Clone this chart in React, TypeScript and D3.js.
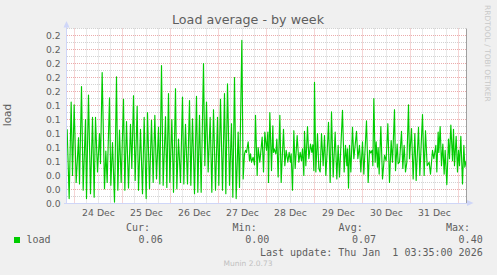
import React from "react";
import * as d3 from "d3";

// hours since 24 Dec 2025 00:00 (UTC) of each read sample, and the load at that time
const hours = [
  -3.67, -2.67, -1.67, -1.0, -0.17, 0.83, 2.0, 2.5, 3.5, 4.33,
  5.5, 6.0, 7.0, 8.0, 9.0, 9.83, 10.5, 11.5, 12.5, 13.0,
  13.83, 15.0, 15.67, 16.33, 17.5, 18.17, 19.0, 20.0, 21.0, 21.67,
  22.5, 23.33, 24.5, 25.17, 26.0, 27.0, 28.0, 28.67, 29.5, 30.33,
  31.33, 32.0, 33.0, 34.0, 34.83, 35.83, 36.5, 37.5, 38.5, 39.33,
  40.17, 41.0, 42.0, 42.67, 43.5, 44.33, 45.5, 46.17, 47.0, 47.67,
  48.67, 49.5, 50.5, 51.17, 52.0, 53.0, 54.0, 54.67, 55.5, 56.5,
  57.5, 58.17, 59.0, 60.0, 61.0, 61.67, 62.5, 63.33, 64.5, 65.17,
  66.0, 66.83, 67.83, 68.67, 69.5, 70.5, 71.5, 72.17, 73.0, 74.0,
  75.0, 75.67, 76.5, 77.5, 78.5, 79.17, 80.0, 80.83, 81.83, 82.5,
  83.67, 84.33, 85.0, 85.5, 86.0, 86.83, 87.5, 88.0, 88.5, 89.33,
  90.0, 90.5, 91.33, 91.83, 92.67, 93.83, 94.5, 95.17, 96.0, 96.67,
  97.0, 97.67, 98.5, 99.17, 99.5, 99.83, 100.67, 101.17, 101.83, 102.67,
  103.33, 104.5, 105.17, 105.83, 106.67, 107.33, 108.0, 108.33, 109.0, 109.67,
  110.33, 111.33, 112.17, 112.83, 113.5, 114.0, 114.67, 115.0, 115.67, 116.5,
  117.17, 118.0, 118.67, 119.17, 119.67, 120.0, 120.67, 121.5, 122.17, 122.83,
  123.5, 124.33, 125.0, 125.67, 126.5, 127.0, 127.83, 128.5, 129.33, 130.33,
  131.17, 131.83, 132.5, 134.0, 134.83, 135.5, 136.17, 136.5, 137.0, 137.5,
  138.17, 139.0, 139.67, 141.0, 141.67, 142.5, 143.17, 144.0, 144.67, 146.0,
  146.83, 147.5, 148.17, 148.83, 149.17, 149.67, 150.33, 150.83, 151.5, 151.83,
  152.33, 153.17, 154.0, 155.0, 155.83, 156.67, 157.5, 158.33, 159.0, 160.0,
  160.5, 161.33, 161.83, 162.5, 163.5, 164.17, 164.83, 165.5, 166.17, 167.0,
  167.5, 168.5, 169.33, 170.17, 170.83, 172.0, 172.67, 174.0, 174.83, 175.5,
  176.33, 177.33, 178.0, 179.0, 179.67, 180.67, 181.17, 181.83, 182.17, 182.83,
  183.5, 184.17, 184.83, 185.33, 186.17, 187.0, 187.5, 188.17, 189.0, 189.5,
  190.0, 190.83, 191.5, 192.0, 192.5, 193.17, 194.0, 194.67, 195.17, 195.83,
];

const load = [
  0.106, 0.007, 0.145, 0.040, 0.141, 0.030, 0.094, 0.028, 0.167, 0.019,
  0.120, 0.007, 0.155, 0.014, 0.123, 0.009, 0.123, 0.045, 0.100, 0.057,
  0.187, 0.021, 0.075, 0.030, 0.151, 0.026, 0.087, 0.002, 0.181, 0.019,
  0.105, 0.030, 0.149, 0.019, 0.117, 0.022, 0.113, 0.050, 0.154, 0.033,
  0.139, 0.019, 0.106, 0.014, 0.123, 0.007, 0.130, 0.021, 0.119, 0.030,
  0.126, 0.035, 0.109, 0.028, 0.197, 0.026, 0.124, 0.023, 0.157, 0.030,
  0.120, 0.016, 0.164, 0.021, 0.092, 0.030, 0.152, 0.028, 0.113, 0.028,
  0.147, 0.026, 0.121, 0.014, 0.153, 0.016, 0.126, 0.016, 0.200, 0.054,
  0.145, 0.045, 0.123, 0.016, 0.134, 0.019, 0.123, 0.026, 0.149, 0.019,
  0.157, 0.014, 0.171, 0.026, 0.114, 0.009, 0.180, 0.007, 0.102, 0.023,
  0.233, 0.035, 0.071, 0.076, 0.073, 0.088, 0.061, 0.071, 0.059, 0.066,
  0.055, 0.126, 0.040, 0.080, 0.059, 0.095, 0.045, 0.102, 0.076, 0.102,
  0.030, 0.130, 0.047, 0.111, 0.073, 0.078, 0.071, 0.092, 0.038, 0.126,
  0.030, 0.106, 0.054, 0.076, 0.059, 0.073, 0.059, 0.071, 0.019, 0.104,
  0.050, 0.097, 0.059, 0.073, 0.061, 0.078, 0.040, 0.103, 0.054, 0.110,
  0.064, 0.085, 0.073, 0.084, 0.047, 0.173, 0.045, 0.100, 0.050, 0.045,
  0.100, 0.054, 0.097, 0.040, 0.083, 0.116, 0.030, 0.131, 0.038, 0.102,
  0.035, 0.083, 0.038, 0.133, 0.045, 0.083, 0.054, 0.078, 0.022, 0.083,
  0.045, 0.109, 0.064, 0.103, 0.064, 0.083, 0.045, 0.088, 0.042, 0.118,
  0.030, 0.076, 0.072, 0.076, 0.054, 0.150, 0.059, 0.088, 0.052, 0.080,
  0.042, 0.110, 0.035, 0.069, 0.061, 0.114, 0.030, 0.090, 0.059, 0.134,
  0.047, 0.085, 0.057, 0.059, 0.103, 0.050, 0.083, 0.045, 0.059, 0.141,
  0.064, 0.107, 0.035, 0.100, 0.033, 0.109, 0.040, 0.127, 0.040, 0.104,
  0.054, 0.059, 0.042, 0.076, 0.064, 0.083, 0.045, 0.102, 0.073, 0.110,
  0.054, 0.085, 0.042, 0.076, 0.027, 0.092, 0.064, 0.112, 0.061, 0.106,
  0.054, 0.096, 0.045, 0.076, 0.054, 0.096, 0.028, 0.083, 0.052, 0.061,
];

const yTicks = [0, 0.02, 0.04, 0.06, 0.08, 0.1, 0.12, 0.14, 0.16, 0.18, 0.2, 0.22, 0.24];
const yMinorTicks = [0.01, 0.03, 0.05, 0.07, 0.09, 0.11, 0.13, 0.15, 0.17, 0.19, 0.21, 0.23, 0.25];
const legendHeaders = ["Cur:", "Min:", "Avg:", "Max:"];
const legendValues = ["0.06", "0.00", "0.07", "0.40"];
const seriesName = "load";
const title = "Load average - by week";
const lastUpdate = "Last update: Thu Jan  1 03:35:00 2026";

const H = 3600 * 1000;
const base = Date.UTC(2025, 11, 24, 0, 0);
const tStart = new Date(Date.UTC(2025, 11, 23, 20, 15));
const tEnd = new Date(Date.UTC(2026, 0, 1, 4, 15));

export default function App() {
  const W = 497, HT = 275;
  const left = 67, right = 467, top = 28.5, bottom = 203.5;
  const x = d3.scaleUtc().domain([tStart, tEnd]).range([left, right]);
  const y = d3.scaleLinear().domain([0, 0.25]).range([bottom, top]);

  const days = d3.utcDay.range(tStart, tEnd);
  const sixH = d3.utcHour.every(6)!.range(tStart, tEnd).filter((d) => d.getUTCHours() !== 0);
  const labelDays = days.filter((d) => +d + 12 * H < +tEnd);
  const fmtDay = d3.utcFormat("%-d %b");
  const fmtY = d3.format(".1f");

  const pts = hours.map((h, i) => ({ t: new Date(base + h * H), v: load[i] }));
  const line = d3.line<{ t: Date; v: number }>().x((d) => x(d.t)).y((d) => y(d.v));

  const font = "'DejaVu Sans', sans-serif";
  const mono = "'DejaVu Sans Mono', monospace";
  const fc = "#5e5e5e";
  const axisC = "#CFD6F8";
  const minorC = "#d2d2d2";
  const majorC = "#ebabab";
  const colX = [150, 256.7, 362.7, 470];
  const valX = [162.7, 269.3, 376, 482.7];

  return (
    <svg width={W} height={HT} style={{ position: "absolute", left: 0, top: 0, display: "block" }}>
      <rect x={0} y={0} width={W} height={HT} fill="#f0f0f0" />
      <rect x={left} y={top} width={right - left} height={bottom - top} fill="#ffffff" />
      {/* minor grid */}
      {sixH.map((d, i) => (
        <line key={"vm" + i} x1={x(d)} x2={x(d)} y1={top} y2={bottom} stroke={minorC} strokeDasharray="1,1" />
      ))}
      {yMinorTicks.map((v, i) => (
        <line key={"hm" + i} x1={left} x2={right} y1={y(v)} y2={y(v)} stroke={minorC} strokeDasharray="1,1" />
      ))}
      {/* major grid */}
      {days.map((d, i) => (
        <line key={"vM" + i} x1={x(d)} x2={x(d)} y1={top} y2={bottom} stroke={majorC} strokeDasharray="1,1" />
      ))}
      {yTicks.slice(1).map((v, i) => (
        <line key={"hM" + i} x1={left} x2={right} y1={y(v)} y2={y(v)} stroke={majorC} strokeDasharray="1,1" />
      ))}
      {/* y tick labels */}
      {yTicks.map((v, i) => (
        <text key={"yl" + i} x={60.5} y={y(v) + 3.3} textAnchor="end" fontFamily={font} fontSize={9.2} fill={fc}>
          {fmtY(v)}
        </text>
      ))}
      {/* x labels */}
      {labelDays.map((d, i) => (
        <text key={"xl" + i} x={x(new Date(+d + 12 * H))} y={216} textAnchor="middle" fontFamily={font} fontSize={9.3} fill={fc}>
          {fmtDay(d)}
        </text>
      ))}
      {/* data */}
      <path d={line(pts) || ""} fill="none" stroke="#00cc00" strokeWidth={1.15} strokeLinejoin="round" />
      {/* right edge */}
      <line x1={466.5} x2={466.5} y1={top} y2={bottom} stroke="#a0a0a0" />
      {/* axes */}
      <line x1={66.5} x2={66.5} y1={bottom + 0.5} y2={25} stroke={axisC} />
      <line x1={64} x2={469} y1={bottom} y2={bottom} stroke={axisC} />
      <path d="M63.5,27.5 L66.5,21 L69.5,27.5 Z" fill={axisC} />
      <path d="M467,200 L473.5,203 L467,206 Z" fill={axisC} />
      {/* title & labels */}
      <text x={248} y={24.3} textAnchor="middle" fontFamily={font} fontSize={12.7} fill={fc}>
        {title}
      </text>
      <text transform="translate(10.5,115) rotate(-90)" textAnchor="middle" fontFamily={font} fontSize={10.5} fill={fc}>
        load
      </text>
      <text transform="translate(485,5) rotate(90)" textAnchor="start" fontFamily={font} fontSize={7.5} fill="#c8c8c8">
        RRDTOOL / TOBI OETIKER
      </text>
      {/* legend */}
      {legendHeaders.map((h, i) => (
        <text key={"lh" + i} x={colX[i]} y={231} textAnchor="end" fontFamily={mono} fontSize={10} fill={fc}>
          {h}
        </text>
      ))}
      <rect x={14} y={237} width={6} height={6} fill="#00cc00" />
      <text x={26.5} y={243.3} fontFamily={mono} fontSize={10} fill={fc}>
        {seriesName}
      </text>
      {legendValues.map((v, i) => (
        <text key={"lv" + i} x={valX[i]} y={243.3} textAnchor="end" fontFamily={mono} fontSize={10} fill={fc}>
          {v}
        </text>
      ))}
      <text x={482.7} y={255.6} textAnchor="end" fontFamily={mono} fontSize={10} fill={fc} style={{ whiteSpace: "pre" }}>
        {lastUpdate}
      </text>
      <text x={248} y={266.3} textAnchor="middle" fontFamily={font} fontSize={7.5} fill="#c0c0c0">
        Munin 2.0.73
      </text>
    </svg>
  );
}
